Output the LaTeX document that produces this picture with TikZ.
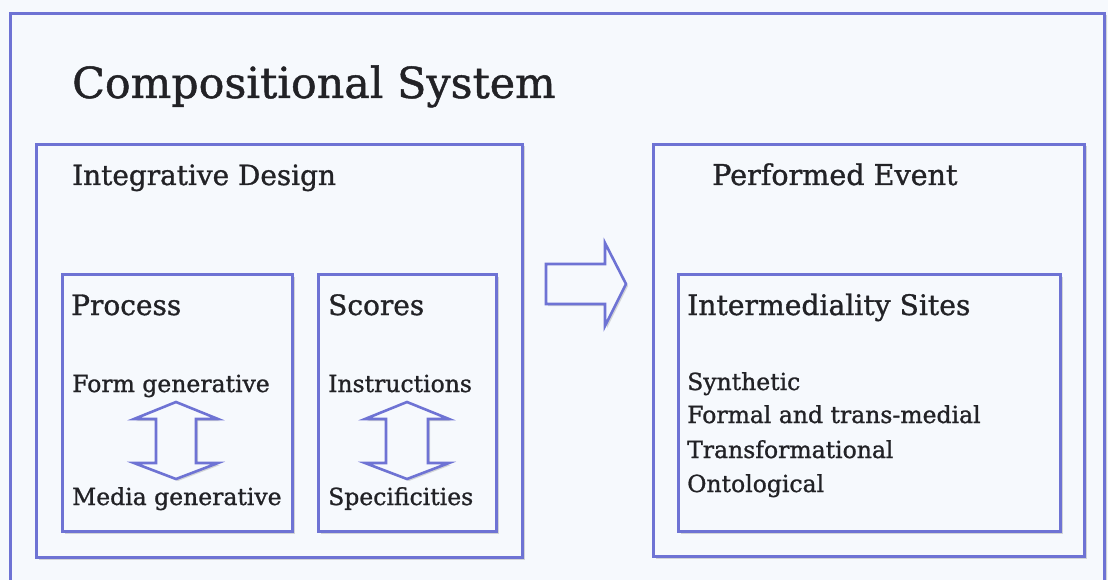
\documentclass[tikz,border=0pt]{standalone}
\usepackage{fontspec}
\setmainfont{DejaVu Serif}[FakeBold=1.1]
\usetikzlibrary{shadows}
\definecolor{bg}{HTML}{F6F9FD}
\definecolor{edge}{HTML}{6E73D4}
\definecolor{ink}{HTML}{222226}
\tikzset{
  box/.style={draw=edge, line width=3pt, fill=bg, anchor=north west, inner sep=0pt,
    drop shadow={opacity=0.3, shadow xshift=2pt, shadow yshift=-2pt}},
  blockarrow/.style={draw=edge, line width=2.6pt, fill=bg, line join=miter,
    drop shadow={opacity=0.3, shadow xshift=2pt, shadow yshift=-2pt}},
  lbl/.style={anchor=base west, inner sep=0pt, text=ink},
}
\begin{document}
\begin{tikzpicture}[x=1pt,y=-1pt]
\useasboundingbox[fill=bg] (0,0) rectangle (1108,580);
% outer
\node[box, minimum width=1094pt, minimum height=568pt] (outer) at (9,12) {};
% integrative design
\node[box, minimum width=486pt, minimum height=413pt] (integ) at (35,143) {};
\node[box, minimum width=230pt, minimum height=257pt] (proc) at (61,273) {};
\node[box, minimum width=178pt, minimum height=257pt] (scores) at (317,273) {};
% performed event
\node[box, minimum width=431pt, minimum height=412pt] (perf) at (652,143) {};
\node[box, minimum width=382pt, minimum height=257pt] (inter) at (677,273) {};
% texts
\node[lbl, font=\fontsize{42.8}{45}\selectfont] (title) at (72,98) {Compositional System};
\node[lbl, font=\fontsize{27.9}{30}\selectfont] (tinteg) at (72,185) {Integrative Design};
\node[lbl, font=\fontsize{28}{30}\selectfont] (tproc) at (71,315) {Process};
\node[lbl, font=\fontsize{28}{30}\selectfont] (tscores) at (328,315) {Scores};
\node[lbl, font=\fontsize{23.5}{26}\selectfont] (form) at (72,392) {Form generative};
\node[lbl, font=\fontsize{23.5}{26}\selectfont] (media) at (72,505) {Media generative};
\node[lbl, font=\fontsize{23.5}{26}\selectfont] (instr) at (328,392) {Instructions};
\node[lbl, font=\fontsize{23.5}{26}\selectfont] (spec) at (328,505) {Specificities};
\node[lbl, font=\fontsize{28.6}{30}\selectfont] (tperf) at (712,185) {Performed Event};
\node[lbl, font=\fontsize{28.2}{30}\selectfont] (tinter) at (687,315) {Intermediality Sites};
\node[lbl, font=\fontsize{23.5}{26}\selectfont] (s1) at (687,390) {Synthetic};
\node[lbl, font=\fontsize{23.5}{26}\selectfont] (s2) at (687,423) {Formal and trans-medial};
\node[lbl, font=\fontsize{23.5}{26}\selectfont] (s3) at (687,458) {Transformational};
\node[lbl, font=\fontsize{23.5}{26}\selectfont] (s4) at (687,492) {Ontological};
% arrows
\draw[blockarrow] (546,264) -- (605,264) -- (605,243) -- (626,284) -- (605,326) -- (605,304) -- (546,304) -- cycle;
\draw[blockarrow] (176,402) -- (218,419) -- (196,419) -- (196,463) -- (218,463) -- (176,479) -- (134,463) -- (156,463) -- (156,419) -- (134,419) -- cycle;
\draw[blockarrow] (407,402) -- (449,419) -- (428,419) -- (428,463) -- (449,463) -- (407,479) -- (365,463) -- (386,463) -- (386,419) -- (365,419) -- cycle;
\end{tikzpicture}
\end{document}
